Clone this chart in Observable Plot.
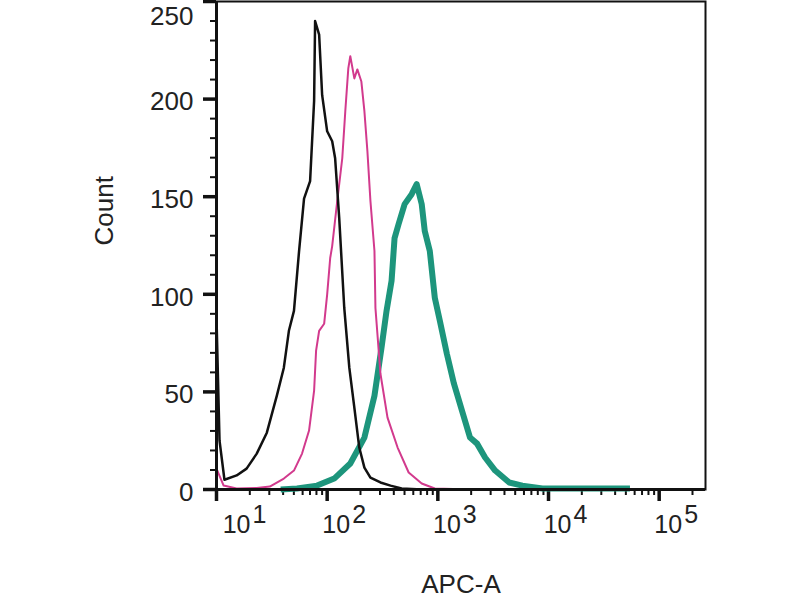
<!DOCTYPE html>
<html>
<head>
<meta charset="utf-8">
<script src="https://cdn.jsdelivr.net/npm/d3@7"></script>
<script src="https://cdn.jsdelivr.net/npm/@observablehq/plot@0.6"></script>
<style>
  html, body { margin: 0; padding: 0; background: #fff; }
  svg { display: block; }
</style>
</head>
<body>
<div id="chart"></div>
<script>
// Tick values and labels
const xMajor = [10, 100, 1000, 10000, 100000];
const xExp = ["1", "2", "3", "4", "5"];
const xMinor = [20, 30, 40, 50, 60, 70, 80, 90,
  200, 300, 400, 500, 600, 700, 800, 900,
  2000, 3000, 4000, 5000, 6000, 7000, 8000, 9000,
  20000, 30000, 40000, 50000, 60000, 70000, 80000, 90000, 200000];
const yMajor = [0, 50, 100, 150, 200, 250];
const yMinor = [10, 20, 30, 40, 60, 70, 80, 90, 110, 120, 130, 140,
  160, 170, 180, 190, 210, 220, 230, 240];

// Black histogram (unstained control)
const blackX = [10, 10.65, 11.8, 15.2, 18.7, 23.1, 28.5, 35.1, 40.6, 45.1, 50.1, 55.7, 61.8, 70.1, 76.2, 77.8, 84.6, 90.1, 100, 111, 118, 128.5, 142.7, 158.5, 176, 195, 217, 246, 303, 374, 471, 715, 1000];
const blackY = [88, 25, 5, 7.2, 10.7, 18.4, 29.1, 48.1, 62.4, 81.3, 91.5, 122, 149, 158, 199, 240, 233, 202, 183.5, 178.4, 169.7, 139, 93, 62.4, 41.9, 21.5, 11.2, 6.1, 3.6, 2, 0.5, 0, 0];

// Magenta histogram (isotype control)
const magentaX = [10, 11.6, 15.2, 23.1, 30.3, 40.6, 50.1, 59.3, 68.6, 76.2, 79.4, 84.6, 93.9, 100, 106.5, 111, 123.3, 136.9, 145.8, 155.2, 161.8, 176, 187.4, 203.7, 217, 231, 246, 267.5, 273, 303, 351, 433, 545, 715, 939, 2000];
const magentaY = [10.7, 2, 0.5, 0.8, 1.5, 5.6, 9.7, 18.4, 30.2, 50.6, 71.1, 81.3, 84.9, 100, 118.6, 124.7, 147.8, 169.7, 193.8, 215.7, 222, 210.6, 215.2, 209, 193.8, 173.3, 147.8, 122.2, 93, 59.3, 36.8, 21.5, 8.7, 3.1, 0.5, 0];

// Teal histogram (stained sample)
const tealX = [38, 53.4, 81.1, 115.8, 161.8, 217, 267.5, 309.7, 343.9, 381.9, 406.4, 442.1, 501.2, 580, 644.2, 715, 761.8, 845.9, 939, 1043, 1207, 1398, 1652, 1954, 2262, 2673, 3296, 4416, 5800, 8810, 54450];
const tealY = [0, 0.5, 2, 5.6, 13.3, 26.6, 48, 72.6, 91.5, 106.9, 128.8, 136, 146.2, 151.3, 156.4, 146.2, 132.4, 122.2, 98.2, 86.4, 69.5, 54.2, 40.4, 26.6, 23.5, 16.4, 9.7, 3.6, 2, 0.5, 0.5];

const rows = (xs, ys) => xs.map((x, i) => ({x, y: ys[i]}));
const black = rows(blackX, blackY);
const magenta = rows(magentaX, magentaY);
const teal = rows(tealX, tealY);

const FONT = 26;
const blank = () => "";

const chart = Plot.plot({
  width: 800,
  height: 600,
  marginLeft: 216,
  marginRight: 95,
  marginTop: 1,
  marginBottom: 111,
  style: {fontFamily: "'Liberation Sans', Arial, sans-serif", background: "#fff", overflow: "visible", color: "#111"},
  x: {type: "log", domain: [10, 262144], label: null},
  y: {domain: [0, 250], label: null},
  marks: [
    // ticks
    Plot.axisX({ticks: xMinor, tickSize: 6, strokeWidth: 2, tickFormat: blank, label: null}),
    Plot.axisX({ticks: xMajor, tickSize: 12, strokeWidth: 3.5, tickFormat: blank, label: null}),
    Plot.axisY({ticks: yMinor, tickSize: 6, strokeWidth: 2, tickFormat: blank, label: null}),
    Plot.axisY({ticks: yMajor, tickSize: 13, strokeWidth: 3.5, tickFormat: blank, label: null}),
    // curves
    Plot.line(teal, {x: "x", y: "y", stroke: "#1d957c", strokeWidth: 6, strokeLinejoin: "round", strokeLinecap: "butt"}),
    Plot.line(magenta, {x: "x", y: "y", stroke: "#d23a8d", strokeWidth: 2, strokeLinejoin: "round"}),
    Plot.line(black, {x: "x", y: "y", stroke: "#111", strokeWidth: 2.5, strokeLinejoin: "round"}),
    // frame
    Plot.frame({stroke: "#111", strokeWidth: 2}),
    Plot.ruleX([10], {stroke: "#111", strokeWidth: 3}),
    Plot.ruleY([0], {stroke: "#111", strokeWidth: 3}),
    // y tick labels
    Plot.text(yMajor.slice(0, 5), {y: d => d, text: d => String(d), frameAnchor: "left", textAnchor: "end", dx: -23, dy: 3, fontSize: FONT, fill: "#222"}),
    Plot.text(yMajor.slice(5), {y: d => d, text: d => String(d), frameAnchor: "left", textAnchor: "end", dx: -23, dy: 15, fontSize: FONT, fill: "#222"}),
    // x tick labels: "10" with exponent
    Plot.text(xMajor.slice(0, 1), {x: d => d, text: () => "10", frameAnchor: "bottom", textAnchor: "end", dx: 34, dy: 43, fontSize: 25, fill: "#222"}),
    Plot.text(xMajor.slice(0, 1), {x: d => d, text: (d, i) => xExp[i], frameAnchor: "bottom", textAnchor: "start", dx: 36, dy: 33, fontSize: 25, fill: "#222"}),
    Plot.text(xMajor.slice(1), {x: d => d, text: () => "10", frameAnchor: "bottom", textAnchor: "end", dx: 23, dy: 43, fontSize: 25, fill: "#222"}),
    Plot.text(xMajor.slice(1), {x: d => d, text: (d, i) => xExp[i + 1], frameAnchor: "bottom", textAnchor: "start", dx: 25, dy: 33, fontSize: 25, fill: "#222"}),
    // axis titles
    Plot.text(["APC-A"], {text: d => d, frameAnchor: "bottom", dy: 103, fontSize: FONT, fill: "#222"}),
    Plot.text(["Count"], {text: d => d, frameAnchor: "left", rotate: -90, dx: -112, fontSize: FONT, fill: "#222"})
  ]
});

document.getElementById("chart").appendChild(chart);
</script>
</body>
</html>
